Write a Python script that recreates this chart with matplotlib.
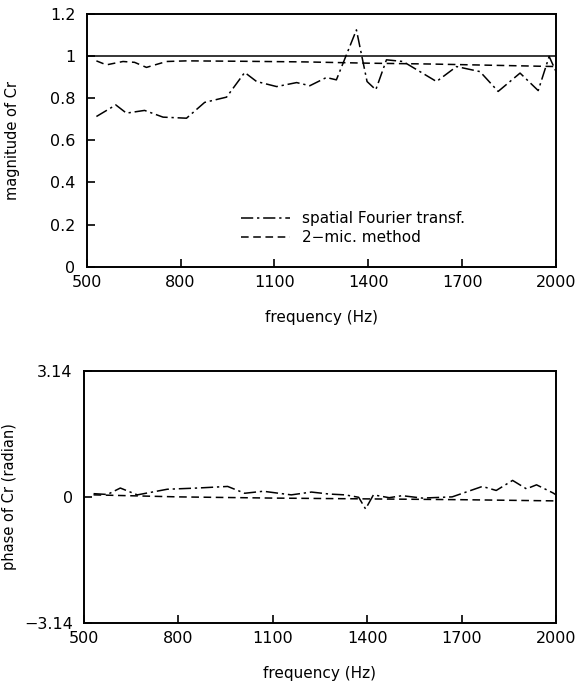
import matplotlib
matplotlib.use("Agg")
import matplotlib.pyplot as plt
import numpy as np

# --- magnitude of Cr ---
freq_sft = [531, 593, 627, 685, 744, 819, 877, 947, 1005, 1043, 1107, 1171, 1213, 1266, 1298,
            1362, 1396, 1424, 1458, 1511, 1618, 1682, 1757, 1815, 1885, 1943, 1978, 2000]
mag_sft = [0.713, 0.768, 0.729, 0.742, 0.710, 0.705, 0.780, 0.805, 0.922, 0.879, 0.855, 0.874,
           0.859, 0.898, 0.887, 1.124, 0.879, 0.840, 0.982, 0.974, 0.879, 0.950, 0.926, 0.832,
           0.919, 0.836, 0.998, 0.926]
freq_2mic = [531, 563, 616, 653, 691, 755, 820, 1000, 1200, 1400, 1600, 1800, 2000]
mag_2mic = [0.977, 0.958, 0.974, 0.970, 0.946, 0.974, 0.977, 0.975, 0.972, 0.966, 0.962, 0.956, 0.950]
freq_ref = [500, 2000]
mag_ref = [1.0, 1.0]

# --- phase of Cr ---
freq_ph = [531, 575, 616, 670, 765, 860, 957, 1011, 1070, 1159, 1223, 1280, 1330, 1373, 1395,
           1420, 1470, 1511, 1575, 1670, 1766, 1810, 1862, 1906, 1938, 1990, 2000]
ph_sft = [0.08, 0.06, 0.22, 0.05, 0.19, 0.22, 0.26, 0.09, 0.14, 0.05, 0.12, 0.07, 0.05, -0.01,
          -0.30, 0.05, -0.02, 0.03, -0.03, 0.00, 0.26, 0.16, 0.41, 0.20, 0.30, 0.10, 0.05]
freq_ph2 = [531, 800, 1100, 1400, 1700, 2000]
ph_2mic = [0.05, 0.00, -0.03, -0.05, -0.07, -0.10]

xticks = [500, 800, 1100, 1400, 1700, 2000]
yticks_mag = [0, 0.2, 0.4, 0.6, 0.8, 1.0, 1.2]
ytick_mag_labels = ["0", "0.2", "0.4", "0.6", "0.8", "1", "1.2"]
yticks_ph = [-3.14, 0, 3.14]
ytick_ph_labels = ["\u22123.14", "0", "3.14"]

plt.rcParams['font.family'] = ['DejaVu Sans']
fig = plt.figure(figsize=(5.78, 6.93), dpi=100)

ax1 = fig.add_axes([0.150, 0.615, 0.812, 0.365])
ax2 = fig.add_axes([0.145, 0.101, 0.817, 0.364])

lw = 1.1
dashdot = [8, 2.5, 1.5, 2.5]
ax1.plot(freq_ref, mag_ref, color='black', lw=lw)
ax1.plot(freq_sft, mag_sft, color='black', lw=lw, dashes=dashdot,
         label='spatial Fourier transf.')
ax1.plot(freq_2mic, mag_2mic, color='black', lw=lw, dashes=[5, 3],
         label='2\u2212mic. method')
ax1.set_xlim(500, 2000)
ax1.set_ylim(0, 1.2)
ax1.set_xticks(xticks)
ax1.set_xticklabels([str(t) for t in xticks])
ax1.set_yticks(yticks_mag)
ax1.set_yticklabels(ytick_mag_labels)
ax1.set_ylabel('magnitude of Cr', fontsize=10.5)
ax1.set_xlabel('frequency (Hz)', fontsize=11, labelpad=14)
ax1.yaxis.set_label_coords(-0.143, 0.5)
leg = ax1.legend(loc='lower left', bbox_to_anchor=(0.3, 0.03), frameon=False, fontsize=11,
                 handlelength=3.2, handletextpad=0.8, labelspacing=0.3)

ax2.plot(freq_ph, ph_sft, color='black', lw=lw, dashes=dashdot)
ax2.plot(freq_ph2, ph_2mic, color='black', lw=lw, dashes=[5, 3])
ax2.set_xlim(500, 2000)
ax2.set_ylim(-3.14, 3.14)
ax2.set_xticks(xticks)
ax2.set_xticklabels([str(t) for t in xticks])
ax2.set_yticks(yticks_ph)
ax2.set_yticklabels(ytick_ph_labels)
ax2.set_ylabel('phase of Cr (radian)', fontsize=10.5)
ax2.set_xlabel('frequency (Hz)', fontsize=11, labelpad=14)
ax2.yaxis.set_label_coords(-0.142, 0.5)

for ax in (ax1, ax2):
    for s in ax.spines.values():
        s.set_linewidth(1.4)
    ax.tick_params(direction='in', length=6, width=1.2, labelsize=11.5, top=False, right=False)
    ax.tick_params(axis='y', pad=8)
    ax.tick_params(axis='x', pad=6)

fig.savefig('out.png', dpi=100)
